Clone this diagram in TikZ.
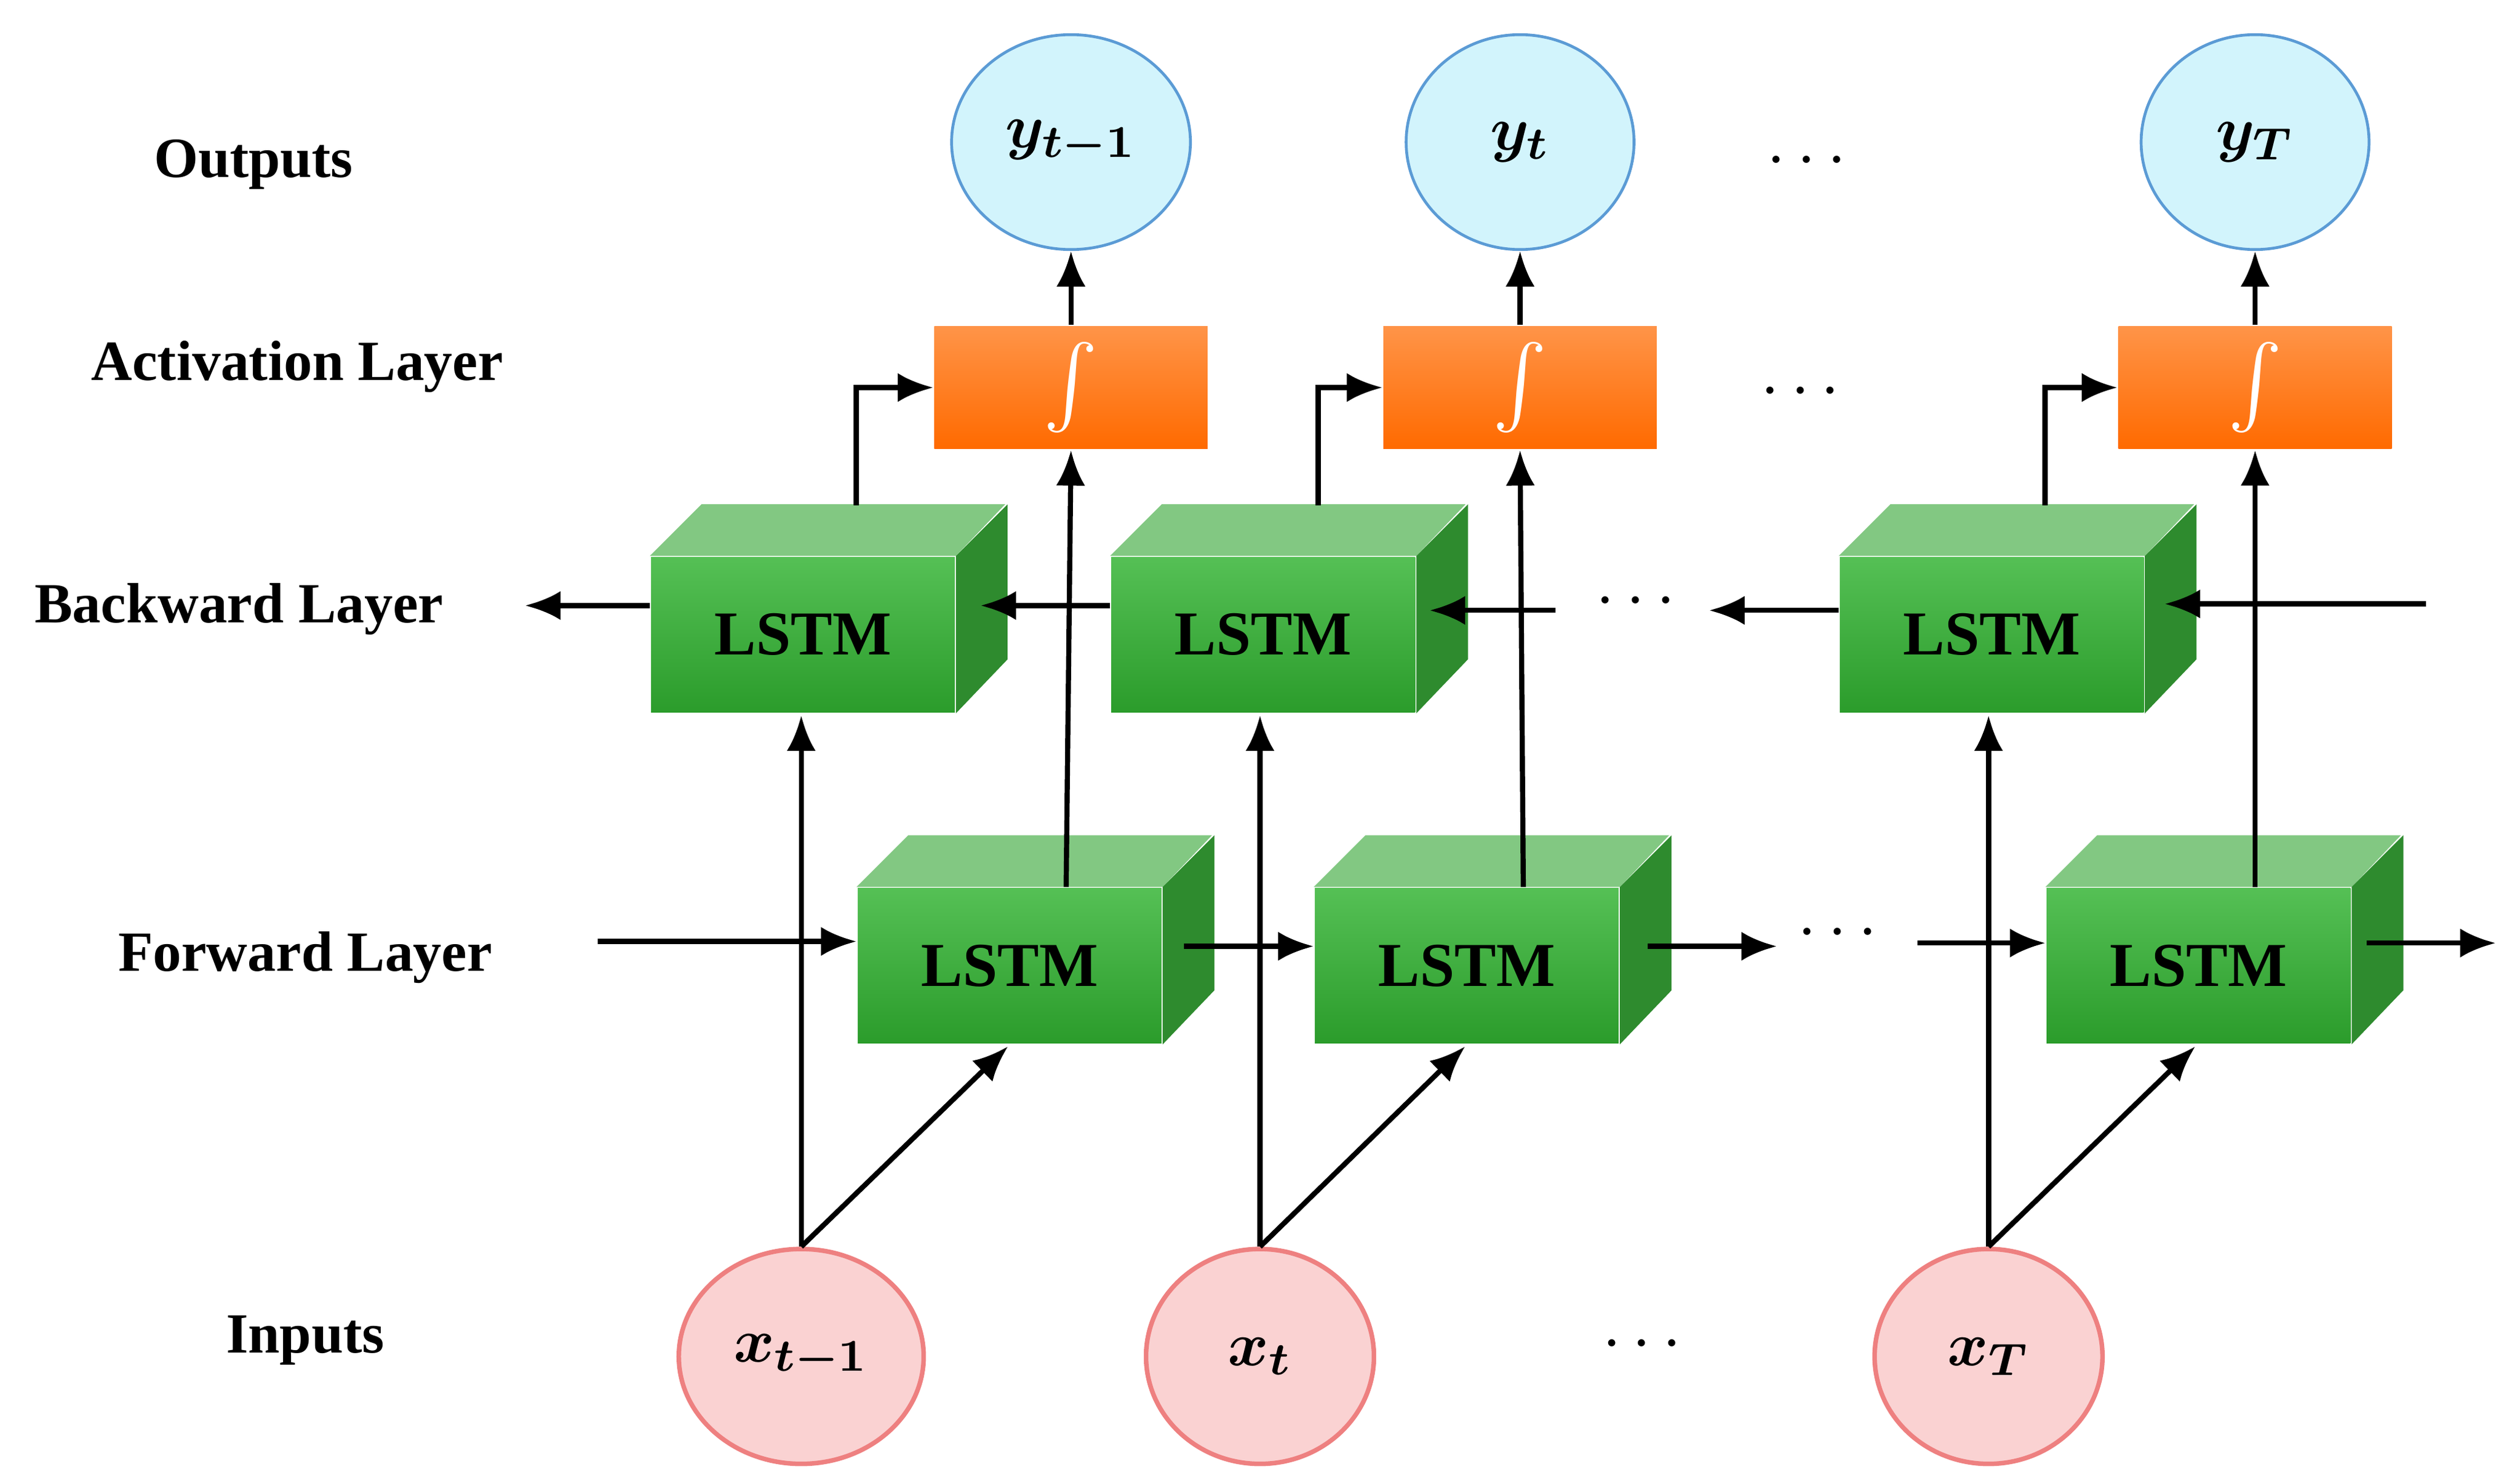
\documentclass[tikz,border=0pt]{standalone}
\usepackage{amsmath,amssymb,bm}
\usepackage{fontspec}
\setmainfont{Liberation Serif}
\usetikzlibrary{arrows.meta}
\definecolor{oblue}{HTML}{D2F4FC}
\definecolor{oblueb}{HTML}{5B9BD5}
\definecolor{ipink}{HTML}{FAD2D2}
\definecolor{ipinkb}{HTML}{EE8080}
\definecolor{gtop}{HTML}{82C882}
\definecolor{gside}{HTML}{2E8B2E}
\definecolor{gf1}{HTML}{55C055}
\definecolor{gf2}{HTML}{2B9C2B}
\definecolor{or1}{HTML}{FF9448}
\definecolor{or2}{HTML}{FF6A00}
\begin{document}
\begin{tikzpicture}[x=0.01cm,y=-0.01cm,
  lab/.style={font=\bfseries\fontsize{10}{12}\selectfont},
  outc/.style={ellipse,draw=oblueb,fill=oblue,minimum width=1.41cm,minimum height=1.33cm,line width=0.5pt},
  inc/.style={ellipse,draw=ipinkb,fill=ipink,minimum width=1.41cm,minimum height=1.33cm,line width=0.8pt},
  act/.style={rectangle,top color=or1,bottom color=or2,minimum width=1.69cm,minimum height=0.76cm,inner sep=0,text=white,font=\Large},
  front/.style={rectangle,top color=gf1,bottom color=gf2,minimum width=1.88cm,minimum height=0.96cm,inner sep=0,font=\bfseries\fontsize{11}{13}\selectfont},
  ar/.style={-{Latex[length=2.2mm,width=1.8mm]},line width=0.9pt},
  mt/.style={font=\fontsize{11}{13}\selectfont}]
\useasboundingbox (0,0) rectangle (1560,915);
\tikzset{shapes/.code={}}
\usetikzlibrary{shapes.geometric}
\newcommand{\lstmbox}[3]{%
  \node[front] (#1) at (#2,#3) {LSTM};
  \fill[gtop] (#1.north west) -- ++(32,-32) -- ++(188,0) -- (#1.north east) -- cycle;
  \fill[gside] (#1.north east) -- ++(32,-32) -- ++(0,96) -- (#1.south east) -- cycle;
}
% labels
\node[lab] (lo) at (157,102) {Outputs};
\node[lab] (la) at (184,227) {Activation Layer};
\node[lab] (lb) at (148,377) {Backward Layer};
\node[lab] (lf) at (189,593) {Forward Layer};
\node[lab] (li) at (189,830) {Inputs};
% outputs
\node[outc,mt] (y1) at (663,88) {$\bm{y_{t-1}}$};
\node[outc,mt] (y2) at (941,88) {$\bm{y_{t}}$};
\node[outc,mt] (y3) at (1396,88) {$\bm{y_{T}}$};
% activation
\node[act] (a1) at (663,240) {$\int$};
\node[act] (a2) at (941,240) {$\int$};
\node[act] (a3) at (1396,240) {$\int$};
% LSTMs
\lstmbox{b1}{497}{393}
\lstmbox{b2}{782}{393}
\lstmbox{b3}{1233}{393}
\lstmbox{f1}{625}{598}
\lstmbox{f2}{908}{598}
\lstmbox{f3}{1361}{598}
% inputs
\node[inc,mt] (x1) at (496,840) {$\bm{x_{t-1}}$};
\node[inc,mt] (x2) at (780,840) {$\bm{x_{t}}$};
\node[inc,mt] (x3) at (1231,840) {$\bm{x_{T}}$};
% dots
\foreach \n/\x/\y in {d1/1122/100,d2/1118/243,d3/1016/373,d4/1141/578,d5/1020/833}
  \node (\n) at (\x,\y) {\large$\cdots$};
% coordinates
\coordinate (bl0) at (325,375);
\coordinate (bin2) at (963,378);
\coordinate (bout3) at (1058,378);
\coordinate (bin4) at (1502,374);
\coordinate (fin0) at (370,583);
\coordinate (fo2) at (1100,586);
\coordinate (fi3) at (1187,584);
\coordinate (fo3) at (1545,584);
% input arrows
\foreach \i/\x/\fx in {1/496/624,2/780/907,3/1231/1359}{
  \draw[ar] (x\i.north) -- (\x,443);
  \draw[ar] (x\i.north) -- (\fx,648);
}
% forward to activation
\draw[ar] (f1.north -| 660,0) -- (a1.south);
\draw[ar] (f2.north -| 943,0) -- (a2.south);
\draw[ar] (f3.north -| 1396,0) -- (a3.south);
% backward to activation
\draw[ar] (530,313) |- (a1.west);
\draw[ar] (816,313) |- (a2.west);
\draw[ar] (1266,313) |- (a3.west);
% activation to outputs
\foreach \i in {1,2,3} \draw[ar] (a\i.north) -- (y\i.south);
% backward chain
\draw[ar] (b1.west |- 0,375) -- (bl0);
\draw[ar] (b2.west |- 0,375) -- (607,375);
\draw[ar] (bin2) -- (885,378);
\draw[ar] (b3.west |- 0,378) -- (bout3);
\draw[ar] (bin4) -- (1340,374);
% forward chain
\draw[ar] (fin0) -- (f1.west |- 0,583);
\draw[ar] (733,586) -- (f2.west |- 0,586);
\draw[ar] (1020,586) -- (fo2);
\draw[ar] (fi3) -- (f3.west |- 0,584);
\draw[ar] (1465,584) -- (fo3);
\end{tikzpicture}
\end{document}
